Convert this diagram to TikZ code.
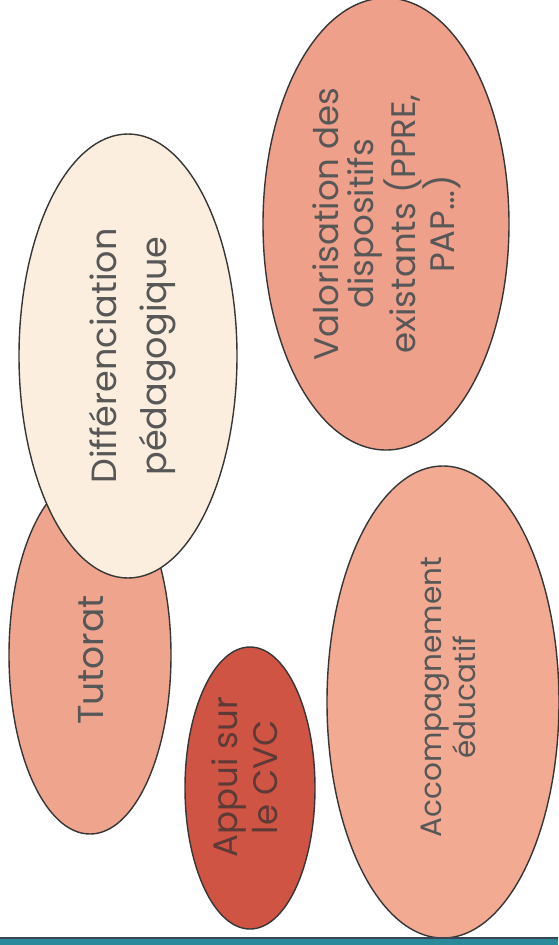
\documentclass[tikz,border=0pt]{standalone}
\usepackage{fontspec}
\setmainfont{Poppins}
\usetikzlibrary{shapes.geometric}
\definecolor{cream}{HTML}{FBEEDE}
\definecolor{salmon}{HTML}{EFA08A}
\definecolor{salmonb}{HTML}{EFA58D}
\definecolor{salmonc}{HTML}{F2AA92}
\definecolor{brick}{HTML}{CF5444}
\definecolor{txtgray}{HTML}{575757}
\definecolor{txtred}{HTML}{5E3A36}
\definecolor{edge}{HTML}{363636}
\definecolor{barteal}{HTML}{2A8A9A}
\definecolor{bardark}{HTML}{3A4656}
\tikzset{
  blob/.style={ellipse, draw=edge, line width=1.4pt, inner sep=0pt},
  lbl/.style={rotate=90, align=center, text=txtgray, inner sep=0pt}
}
\begin{document}
\begin{tikzpicture}[x=1pt,y=-1pt]
\useasboundingbox (0,0) rectangle (558,945);
\fill[white] (0,0) rectangle (558,945);
% ellipses (pixel centre, 2rx, 2ry)
\node[blob, fill=salmonb, minimum width=162pt, minimum height=358pt] (tut) at (90,655) {};
\node[blob, fill=cream, minimum width=218pt, minimum height=444pt] (dif) at (128,356) {};
\node[blob, fill=salmon, minimum width=246pt, minimum height=452pt] (val) at (386,224) {};
\node[blob, fill=brick, minimum width=130pt, minimum height=282pt] (cvc) at (250,788) {};
\node[blob, fill=salmonc, minimum width=232pt, minimum height=472pt] (acc) at (443,702) {};
% labels
\node[lbl, font=\fontsize{36}{44}\selectfont] (tuttxt) at (91,660) {Tutorat};
\node[lbl, font=\fontsize{35}{50}\selectfont] (diftxt) at (133,356) {Différenciation\\pédagogique};
\node[lbl, font=\fontsize{34}{35}\selectfont] (valtxt) at (387,224) {Valorisation des\\dispositifs\\existants (PPRE,\\PAP…)};
\node[lbl, text=txtred, font=\fontsize{34}{40}\selectfont] (cvctxt) at (245,777) {Appui sur\\le CVC};
\node[lbl, font=\fontsize{29.5}{34}\selectfont] (acctxt) at (448,697) {Accompagnement\\éducatif};
% bottom bar
\fill[barteal] (0,938) rectangle (558,945);
\draw[bardark, line width=1.5pt] (0,938) -- (558,938);
\end{tikzpicture}
\end{document}
